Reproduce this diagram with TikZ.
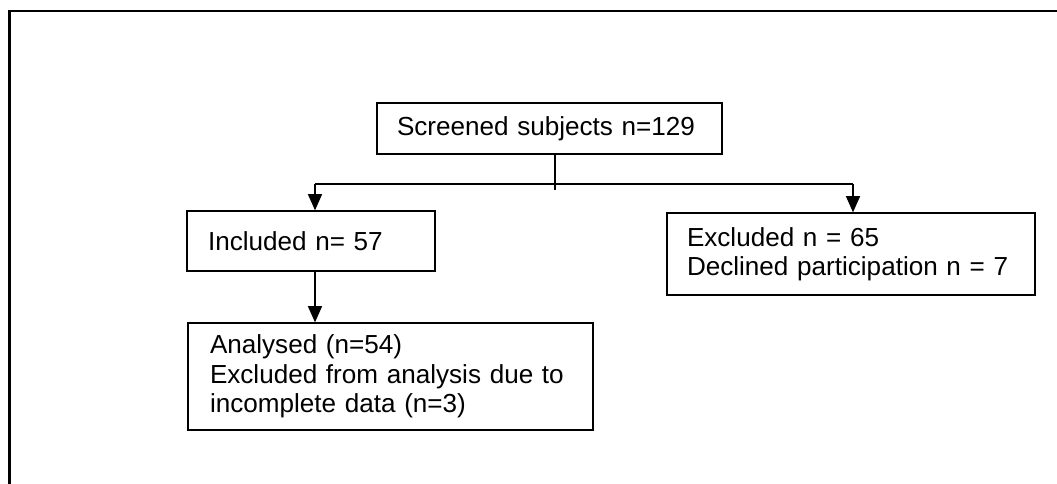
\documentclass[tikz,border=0pt]{standalone}
\usepackage{fontspec}
\setmainfont{Liberation Sans}
\usetikzlibrary{arrows.meta}

\tikzset{
  boite/.style={draw, line width=0.6pt, rectangle, align=left, inner sep=0pt,
    font=\fontsize{12}{13.5}\selectfont},
  fleche/.style={line width=0.6pt, -{Triangle[width=6.5pt,length=7.5pt]}},
  trait/.style={line width=0.6pt}
}

\begin{document}
\begin{tikzpicture}[x=0.46pt,y=-0.46pt]

\useasboundingbox (0,0) rectangle (1057,484);
\draw[line width=1.2pt] (9.5,484)--(9.5,11)--(1057,11);

\node[boite, minimum width=345*0.46pt, minimum height=51*0.46pt, text width=305*0.46pt] (scr) at (549.5,128.5) {Screened subjects n=129};
\node[boite, minimum width=248*0.46pt, minimum height=60*0.46pt, text width=206*0.46pt] (incl) at (311,241) {Included n= 57};
\node[boite, minimum width=368*0.46pt, minimum height=82*0.46pt, text width=328*0.46pt] (excl) at (851,254) {Excluded n = 65\\Declined participation n = 7};
\node[boite, minimum width=405*0.46pt, minimum height=107*0.46pt, text width=361*0.46pt] (anal) at (390.5,376.5) {Analysed (n=54)\\Excluded from analysis due to\\incomplete data (n=3)};

\coordinate (fourche) at (555,184);
\coordinate (fourcheG) at (315,184);
\coordinate (fourcheD) at (853,184);
\coordinate (fourcheB) at (555,190);

\draw[trait] (scr.south -| fourche)--(fourcheB);
\draw[trait] (fourcheG)--(fourcheD);
\draw[fleche] (fourcheG)--(fourcheG |- incl.north);
\draw[fleche] (fourcheD)--(fourcheD |- excl.north);
\draw[fleche] (fourcheG |- incl.south)--(fourcheG |- anal.north);

\end{tikzpicture}
\end{document}
